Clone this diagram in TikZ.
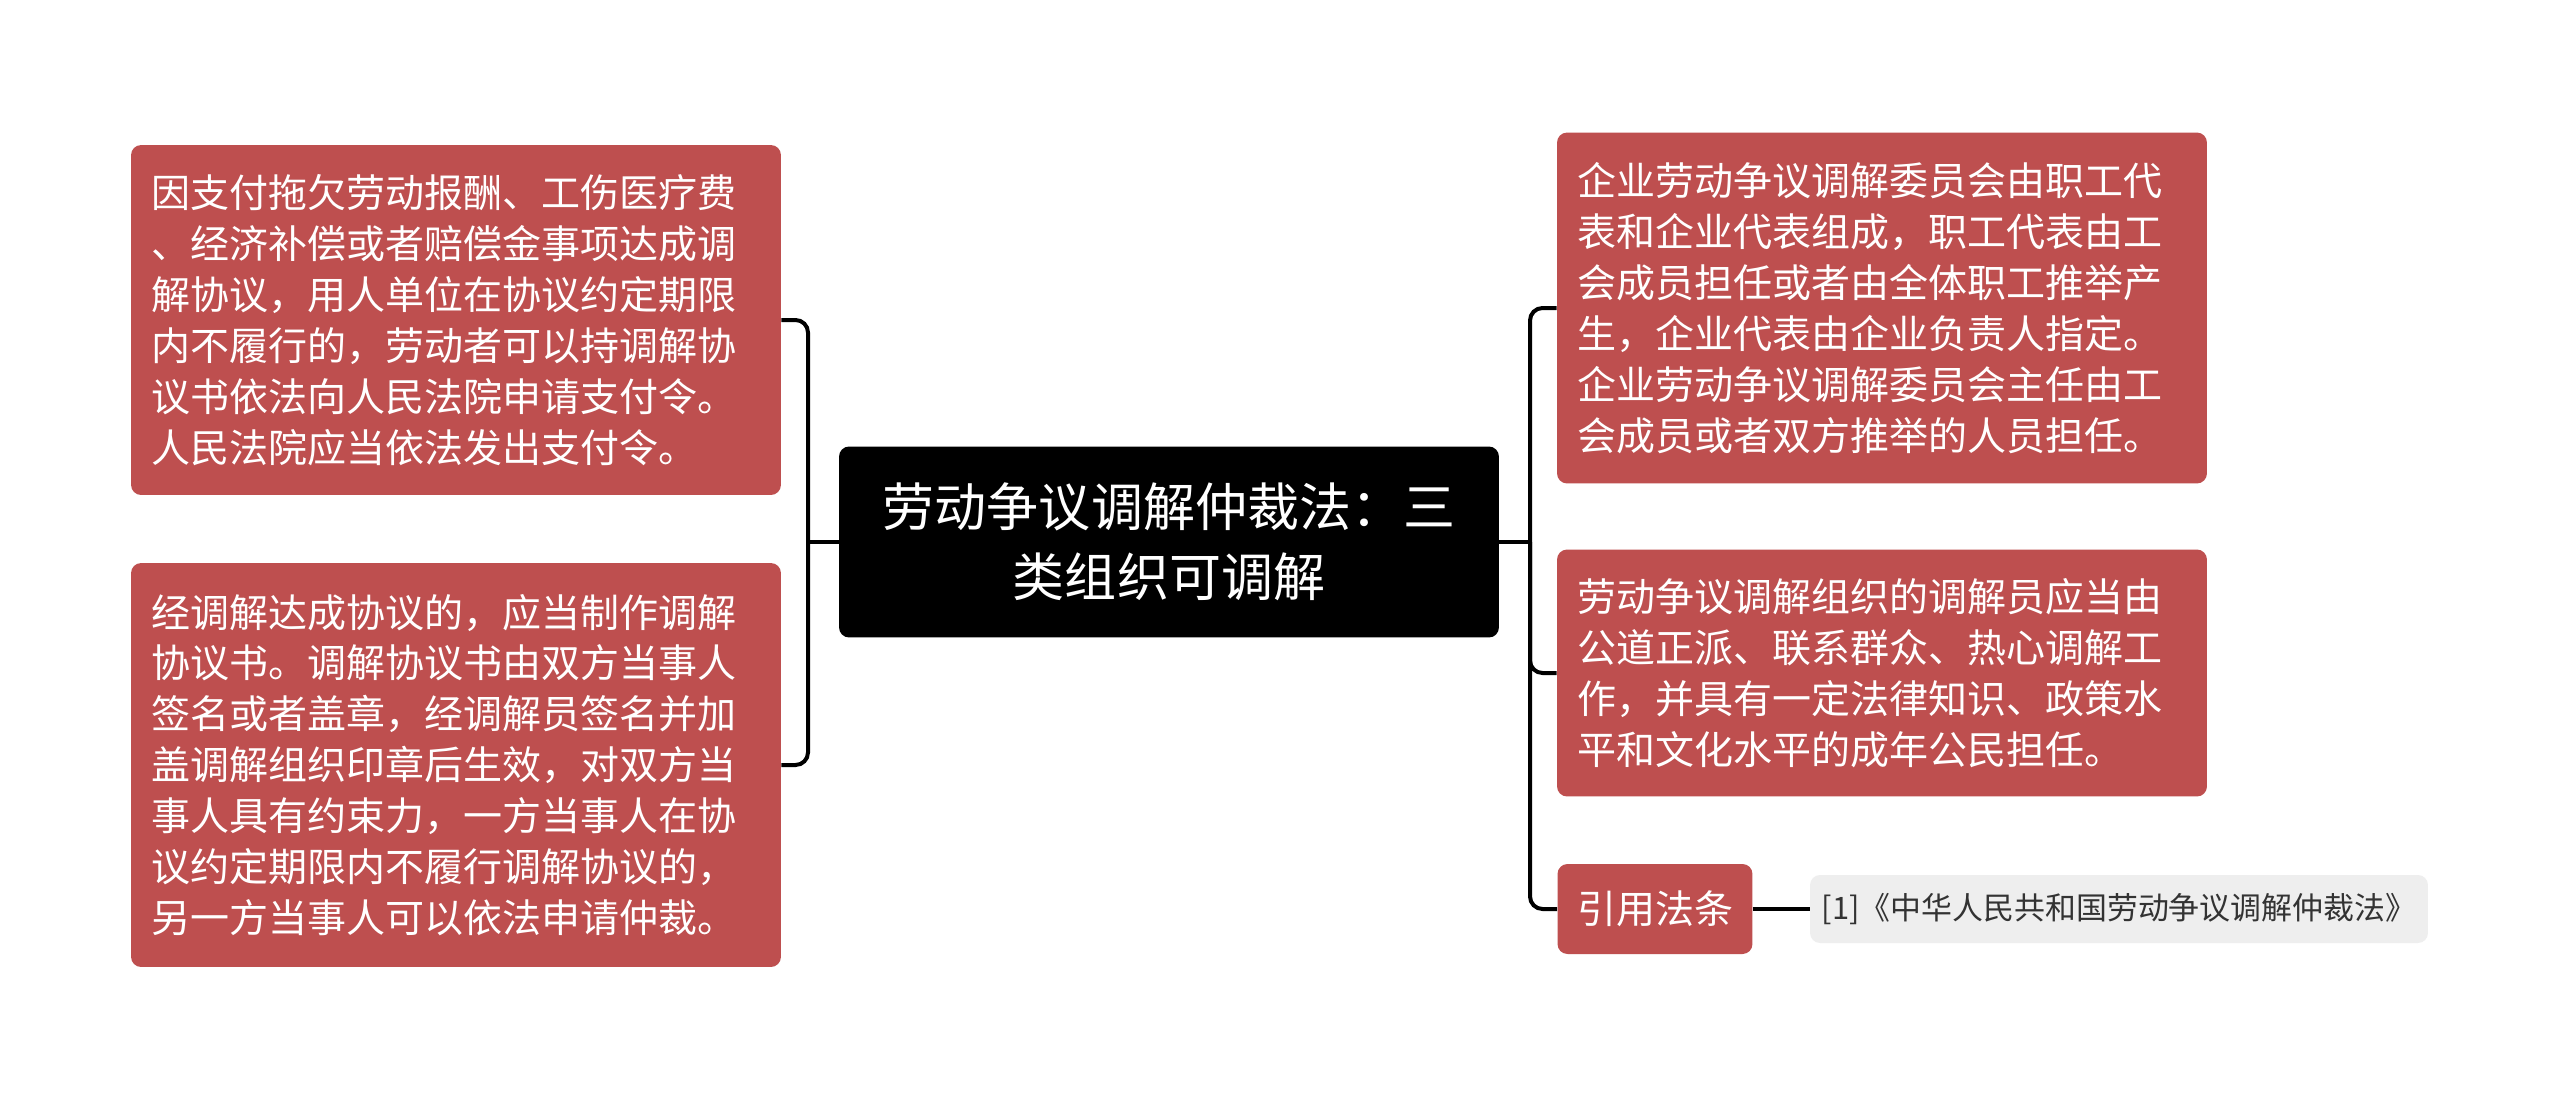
\documentclass[tikz,border=0pt]{standalone}
\usepackage{fontspec}
\setmainfont{Noto Sans CJK SC}
\definecolor{boxred}{RGB}{190,79,79}
\definecolor{refgray}{RGB}{238,238,238}
\definecolor{reftext}{RGB}{51,51,51}
\begin{document}
\begin{tikzpicture}[x=0.02cm,y=-0.02cm,
	topic/.style={fill=boxred,rounded corners=0.2cm,text=white,align=left,
		inner xsep=0.4cm,inner ysep=0cm,text width=12.2cm,
		font=\fontsize{22.2pt}{29pt}\selectfont},
	root/.style={fill=black,rounded corners=0.2cm,text=white,align=center,
		minimum width=13.2cm,minimum height=3.82cm,text width=11.6cm,
		font=\fontsize{29.6pt}{39.8pt}\selectfont},
	link/.style={line width=0.08cm,rounded corners=0.25cm}]
	\fill[white] (0,0) rectangle (2560,1099);
	\useasboundingbox (0,0) rectangle (2560,1099);
	% centre
	\node[root] (main) at (1169,542) {劳动争议调解仲裁法：三\\类组织可调解};
	% left side
	\node[topic,minimum height=7cm] (left1) at (456,320) {因支付拖欠劳动报酬、工伤医疗费\\、经济补偿或者赔偿金事项达成调\\解协议，用人单位在协议约定期限\\内不履行的，劳动者可以持调解协\\议书依法向人民法院申请支付令。\\人民法院应当依法发出支付令。};
	\node[topic,minimum height=8.08cm] (left2) at (456,765) {经调解达成协议的，应当制作调解\\协议书。调解协议书由双方当事人\\签名或者盖章，经调解员签名并加\\盖调解组织印章后生效，对双方当\\事人具有约束力，一方当事人在协\\议约定期限内不履行调解协议的，\\另一方当事人可以依法申请仲裁。};
	% right side
	\node[topic,minimum height=7.02cm] (right1) at (1882,308) {企业劳动争议调解委员会由职工代\\表和企业代表组成，职工代表由工\\会成员担任或者由全体职工推举产\\生，企业代表由企业负责人指定。\\企业劳动争议调解委员会主任由工\\会成员或者双方推举的人员担任。};
	\node[topic,minimum height=4.94cm] (right2) at (1882,673) {劳动争议调解组织的调解员应当由\\公道正派、联系群众、热心调解工\\作，并具有一定法律知识、政策水\\平和文化水平的成年公民担任。};
	\node[topic,text width=,align=center,minimum width=3.9cm,minimum height=1.8cm,inner xsep=0cm] (cite) at (1655,909) {引用法条};
	\node[fill=refgray,rounded corners=0.2cm,text=reftext,minimum width=12.36cm,minimum height=1.36cm,
		font=\fontsize{17.6pt}{21pt}\selectfont] (law) at (2119,909) {[1]《中华人民共和国劳动争议调解仲裁法》};
	% connectors
	\coordinate (ljoin) at (808,542);
	\coordinate (rjoin) at (1530,542);
	\draw[link] (left1.east) -| (ljoin);
	\draw[link] (left2.east) -| (ljoin);
	\draw[link] (main.west) -- (ljoin);
	\draw[link] (rjoin) |- (right1.west);
	\draw[link] (rjoin) |- (right2.west);
	\draw[link] (rjoin) |- (cite.west);
	\draw[link] (main.east) -- (rjoin);
	\draw[link] (cite.east) -- (law.west);
\end{tikzpicture}
\end{document}
